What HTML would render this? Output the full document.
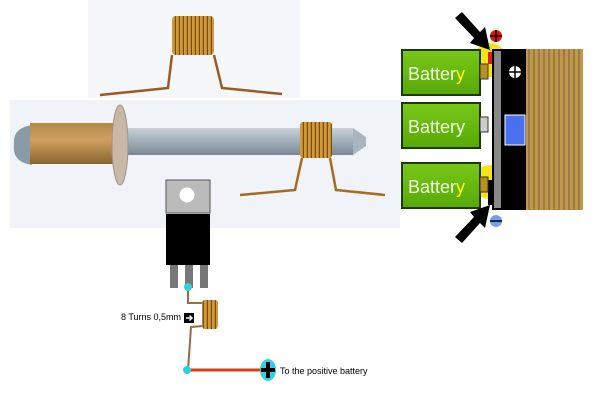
<!DOCTYPE html>
<html><head><style>body{margin:0;background:#fff}svg{display:block}</style></head><body>
<svg width="600" height="400" viewBox="0 0 600 400" xmlns="http://www.w3.org/2000/svg" font-family="Liberation Sans, sans-serif">
<defs>
<linearGradient id="sl" x1="0" y1="0" x2="0" y2="1"><stop offset="0" stop-color="#c8d0d8"/><stop offset=".4" stop-color="#a8b4c0"/><stop offset="1" stop-color="#7c8894"/></linearGradient>
<linearGradient id="br" x1="0" y1="0" x2="0" y2="1"><stop offset="0" stop-color="#b08848"/><stop offset=".4" stop-color="#d0a060"/><stop offset="1" stop-color="#8a6430"/></linearGradient>
<linearGradient id="gr" x1="0" y1="0" x2="0" y2="1"><stop offset="0" stop-color="#78c818"/><stop offset="1" stop-color="#58a808"/></linearGradient>
<pattern id="st" width="5" height="10" patternUnits="userSpaceOnUse"><rect width="5" height="10" fill="#c09848"/><rect x="3" width="2" height="10" fill="#9a7a48"/></pattern>
<pattern id="coil" width="4" height="10" patternUnits="userSpaceOnUse"><rect width="4" height="10" fill="#d09a38"/><rect x="2.8" width="1.2" height="10" fill="#7a4a14"/></pattern>
</defs>
<rect x="88" y="0" width="212" height="98" fill="#f5f7fa"/>
<rect x="10" y="100" width="390" height="128" fill="#f0f3f8"/>
<path d="M100 95 L168 88 L172 55 M214 55 L222 88 L282 94" stroke="#9a5a20" stroke-width="2.5" fill="none"/>
<rect x="172" y="16" width="42" height="39" rx="4" fill="url(#coil)"/>
<rect x="125" y="128" width="228" height="27" fill="url(#sl)"/>
<path d="M353 128 L366 137 L366 146 L353 155 Z" fill="#a8b4c0"/>
<path d="M32 125 Q12 128 14 145 Q12 162 32 165 Z" fill="#8c9aa8"/>
<rect x="30" y="123" width="84" height="41" fill="url(#br)"/>
<ellipse cx="120" cy="145" rx="8" ry="40" fill="#c8b8a8" stroke="#a89080"/>
<path d="M240 195 L295 190 L302 158 M330 158 L336 190 L385 195" stroke="#a86a20" stroke-width="2.5" fill="none"/>
<rect x="300" y="122" width="32" height="36" rx="3" fill="url(#coil)"/>
<rect x="166" y="180" width="44" height="33" fill="#bbb" stroke="#555"/>
<circle cx="187" cy="195" r="7.5" fill="#fff"/>
<rect x="166" y="214" width="44" height="51" fill="#000"/>
<rect x="170" y="265" width="8" height="23" fill="#777"/><rect x="185" y="265" width="8" height="23" fill="#777"/><rect x="200" y="265" width="8" height="23" fill="#777"/>
<path d="M188 288 L188 303 L203 303 M203 326 L191 327 L188 370" stroke="#9a6a40" stroke-width="2" fill="none"/>
<rect x="202" y="300" width="16" height="29" rx="3" fill="url(#coil)"/>
<line x1="188" y1="370" x2="262" y2="370" stroke="#d04010" stroke-width="3"/>
<circle cx="188" cy="287" r="4" fill="#30d0e0"/><circle cx="187" cy="370" r="4" fill="#30d0e0"/>
<ellipse cx="268" cy="370" rx="8" ry="11" fill="#30d0e0"/>
<path d="M268 362 V378 M261 370 H275" stroke="#000" stroke-width="4"/>
<text x="280" y="374" font-size="9" fill="#000">To the positive battery</text>
<text x="121" y="320" font-size="9" fill="#000">8 Turns 0,5mm</text>
<rect x="184" y="313" width="10" height="10" fill="#000"/>
<path d="M186 318 H192 M189.5 315.5 L192 318 L189.5 320.5" stroke="#fff" stroke-width="1.5" fill="none"/>
<circle cx="490" cy="60" r="17" fill="#f4e418"/><circle cx="490" cy="182" r="17" fill="#f4e418"/>
<rect x="493" y="50" width="9" height="159" fill="#888" stroke="#000" stroke-width="2"/>
<rect x="502" y="49" width="24" height="161" fill="#000"/>
<rect x="526" y="49" width="57" height="161" fill="url(#st)"/>
<circle cx="515" cy="72" r="6" fill="#fff"/><path d="M515 66 V78 M509 72 H521" stroke="#000" stroke-width="1.5"/>
<rect x="505" y="115" width="20" height="30" fill="#4a70f0" stroke="#fff"/>
<rect x="488" y="52" width="4" height="12" fill="#e02010"/>
<rect x="488" y="180" width="4" height="25" fill="#000"/>
<g font-size="18" fill="#f0ffe0">
<rect x="402" y="50" width="78" height="45" fill="url(#gr)" stroke="#1a3a00" stroke-width="2"/>
<rect x="480" y="64" width="8" height="15" fill="#b89020" stroke="#333"/>
<text x="408" y="80">Batter<tspan fill="#ff0">y</tspan></text>
<rect x="402" y="103" width="78" height="45" fill="url(#gr)" stroke="#1a3a00" stroke-width="2"/>
<rect x="480" y="117" width="8" height="15" fill="#ccc" stroke="#333"/>
<text x="408" y="133">Battery</text>
<rect x="402" y="163" width="78" height="45" fill="url(#gr)" stroke="#1a3a00" stroke-width="2"/>
<rect x="480" y="177" width="8" height="15" fill="#b89020" stroke="#333"/>
<text x="408" y="193">Batter<tspan fill="#ff0">y</tspan></text>
</g>
<circle cx="496" cy="36" r="6" fill="#e01010"/><path d="M496 30 V42 M490 36 H502" stroke="#000" stroke-width="1.5"/>
<circle cx="496" cy="221" r="6" fill="#70a0e8"/><path d="M490 221 H502" stroke="#000" stroke-width="1.5"/>
<path d="M455 18 L462 12 L480 32 L485 27 L490 50 L470 43 L474 38 Z" fill="#000"/>
<path d="M455 237 L462 243 L480 223 L485 228 L490 205 L470 212 L474 217 Z" fill="#000"/>
</svg>
</body></html>
